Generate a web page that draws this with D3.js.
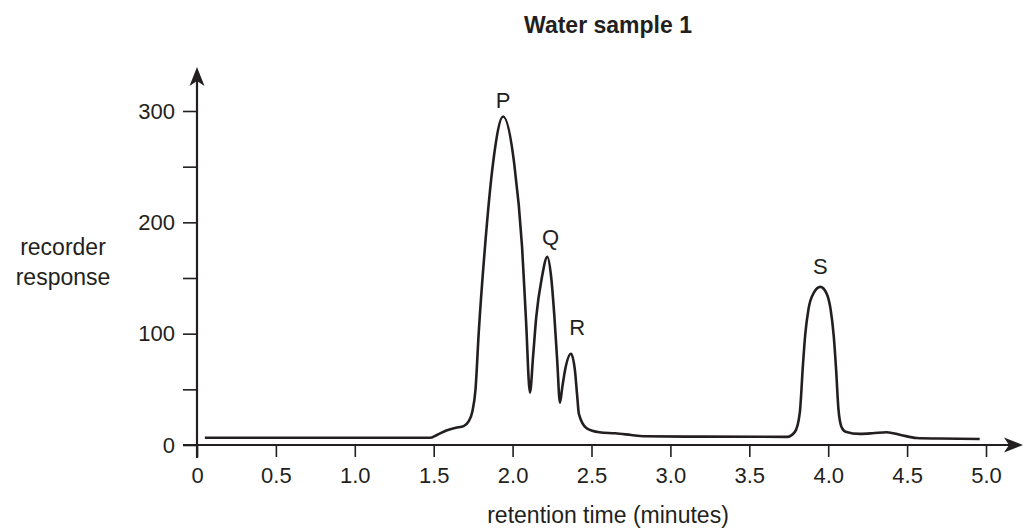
<!DOCTYPE html>
<html>
<head>
<meta charset="utf-8">
<script src="https://cdn.jsdelivr.net/npm/d3@7"></script>
<style>
  body { margin: 0; background: #fff; }
  text { font-family: "Liberation Sans", Arial, sans-serif; fill: #231f20; }
</style>
</head>
<body>
<main></main>
<script>
// chromatogram trace (minutes, recorder response)
var traceTime = [0.05, 1.0, 1.475, 1.52, 1.58, 1.64, 1.69, 1.72, 1.745, 1.765, 1.785, 1.825, 1.876, 1.94,
                 2.01, 2.06, 2.085, 2.11, 2.13, 2.15, 2.185, 2.22, 2.245, 2.265, 2.283, 2.30, 2.315, 2.332, 2.37,
                 2.395, 2.41, 2.42, 2.47, 2.55, 2.65, 2.75, 2.83, 3.2, 3.74, 3.79, 3.82, 3.84, 3.855, 3.875,
                 3.91, 3.95, 3.99, 4.015, 4.035, 4.05, 4.065, 4.085, 4.11, 4.2, 4.28, 4.37, 4.46, 4.56, 4.7, 4.96];
var traceResp = [6.5, 6.5, 6.5, 9, 13, 15.5, 17, 21, 30, 50, 100, 178, 253, 295,
                 253, 178, 112, 47, 80, 115, 150, 169, 150, 115, 75, 38, 52, 67, 82,
                 67, 43, 28, 15, 11.5, 10.5, 9, 7.8, 7.5, 7.3, 12, 29, 72, 100, 122,
                 137, 142, 136, 122, 98, 68, 32, 16, 12, 10, 10.5, 11.5, 9, 6.3, 5.8, 5.4];

// peak labels
var peakNames = ["P", "Q", "R", "S"];
var peakLabelTime = [1.94, 2.24, 2.41, 3.95];
var peakLabelResp = [303, 180, 99, 154];

// axis ticks
var xTicks = [0, 0.5, 1.0, 1.5, 2.0, 2.5, 3.0, 3.5, 4.0, 4.5, 5.0];
var yTicks = [0, 50, 100, 150, 200, 250, 300];
var yLabelled = [0, 100, 200, 300];

var w = 1025,
    h = 530,
    ink = "#231f20";

var svg = d3.select("main")
            .append("svg")
            .attr("width", w)
            .attr("height", h);

var x = d3.scaleLinear().domain([0, 5]).range([197, 986]);
var y = d3.scaleLinear().domain([0, 300]).range([445, 111]);

// title
svg.append("text")
   .attr("x", 608)
   .attr("y", 33)
   .attr("text-anchor", "middle")
   .attr("font-weight", "bold")
   .attr("font-size", "23px")
   .text("Water sample 1");

// x axis ticks + labels
var xAxis = svg.append("g")
   .attr("transform", "translate(0," + y(0) + ")")
   .call(d3.axisBottom(x)
           .tickValues(xTicks)
           .tickSize(12)
           .tickPadding(10)
           .tickFormat(function (d) { return d === 0 ? "0" : d3.format(".1f")(d); }));
xAxis.select(".domain").remove();
xAxis.selectAll("line").attr("stroke", ink).attr("stroke-width", 1.6);
xAxis.selectAll("text").attr("font-size", "22px").attr("font-family", null).attr("fill", ink);

// y axis ticks + labels (minor ticks unlabelled)
var yAxis = svg.append("g")
   .attr("transform", "translate(" + x(0) + ",0)")
   .call(d3.axisLeft(y)
           .tickValues(yTicks)
           .tickSize(14)
           .tickPadding(8)
           .tickFormat(function (d) { return yLabelled.indexOf(d) >= 0 ? d : ""; }));
yAxis.select(".domain").remove();
yAxis.selectAll("line").attr("stroke", ink).attr("stroke-width", 1.6);
yAxis.selectAll("text").attr("font-size", "22px").attr("font-family", null).attr("fill", ink);

// axis lines with arrow heads
svg.append("line")
   .attr("x1", x(0) - 14).attr("y1", y(0))
   .attr("x2", 1016).attr("y2", y(0))
   .attr("stroke", ink).attr("stroke-width", 2.2);
svg.append("line")
   .attr("x1", x(0)).attr("y1", y(0) + 13)
   .attr("x2", x(0)).attr("y2", 74)
   .attr("stroke", ink).attr("stroke-width", 2.2);

var xe = 1023, ye = 67;
svg.append("path")
   .attr("d", "M" + xe + "," + y(0) + " L" + (xe - 19) + "," + (y(0) - 7.5) +
              " L" + (xe - 14) + "," + y(0) + " L" + (xe - 19) + "," + (y(0) + 7.5) + "Z")
   .attr("fill", ink);
svg.append("path")
   .attr("d", "M" + x(0) + "," + ye + " L" + (x(0) - 7.5) + "," + (ye + 19) +
              " L" + x(0) + "," + (ye + 14) + " L" + (x(0) + 7.5) + "," + (ye + 19) + "Z")
   .attr("fill", ink);

// axis titles
svg.append("text")
   .attr("x", 608)
   .attr("y", 523)
   .attr("text-anchor", "middle")
   .attr("font-size", "23px")
   .text("retention time (minutes)");

svg.append("text")
   .attr("x", 63)
   .attr("y", 255)
   .attr("text-anchor", "middle")
   .attr("font-size", "23px")
   .text("recorder");
svg.append("text")
   .attr("x", 63)
   .attr("y", 285)
   .attr("text-anchor", "middle")
   .attr("font-size", "23px")
   .text("response");

// trace
var pts = traceTime.map(function (t, i) { return [t, traceResp[i]]; });
var line = d3.line()
             .x(function (d) { return x(d[0]); })
             .y(function (d) { return y(d[1]); })
             .curve(d3.curveMonotoneX);

svg.append("path")
   .datum(pts)
   .attr("d", line)
   .attr("fill", "none")
   .attr("stroke", ink)
   .attr("stroke-width", 2.6)
   .attr("stroke-linejoin", "round");

// peak letters
svg.selectAll("text.peak")
   .data(peakNames)
   .enter()
   .append("text")
   .attr("class", "peak")
   .attr("x", function (d, i) { return x(peakLabelTime[i]); })
   .attr("y", function (d, i) { return y(peakLabelResp[i]); })
   .attr("text-anchor", "middle")
   .attr("font-size", "22px")
   .text(function (d) { return d; });
</script>
</body>
</html>
